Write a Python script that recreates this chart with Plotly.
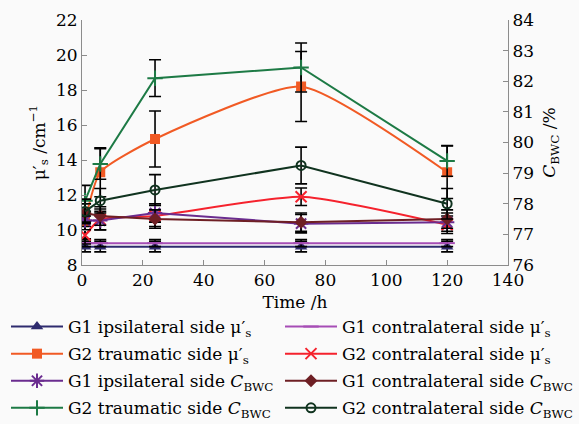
import plotly.graph_objects as go

time_h = [1, 6, 24, 72, 120]

# mu_s' (left axis, cm^-1)
g1_ipsi_mu = [9.05, 9.05, 9.05, 9.05, 9.05]
g1_ipsi_mu_err = [0.3, 0.3, 0.3, 0.3, 0.3]
g1_contra_mu = [9.25, 9.25, 9.25, 9.25, 9.25]
g1_contra_mu_err = [0.2, 0.2, 0.2, 0.2, 0.2]
g2_trauma_mu = [10.5, 13.3, 15.2, 18.2, 13.3]
g2_trauma_mu_err = [1.0, 1.4, 1.6, 2.0, 1.5]
g2_contra_mu = [9.7, 10.6, 10.8, 11.9, 10.3]
g2_contra_mu_err = [0.5, 0.6, 0.6, 0.5, 0.5]

# C_BWC (right axis, %)
g1_ipsi_c = [77.45, 77.45, 77.7, 77.35, 77.4]
g1_ipsi_c_err = [0.3, 0.3, 0.3, 0.3, 0.3]
g1_contra_c = [77.7, 77.6, 77.5, 77.4, 77.5]
g1_contra_c_err = [0.3, 0.3, 0.3, 0.3, 0.3]
g2_trauma_c = [78.1, 79.3, 82.1, 82.45, 79.4]
g2_trauma_c_err = [0.5, 0.5, 0.6, 0.8, 0.5]
g2_contra_c = [77.75, 78.1, 78.45, 79.25, 78.0]
g2_contra_c_err = [0.4, 0.4, 0.5, 0.6, 0.5]

MU = "μ′<sub>s</sub>"
CB = "<i>C</i><sub>BWC</sub>"

FONT = "DejaVu Serif"

series = [
    # name, y, err, color, symbol, msize, axis, shape, legend
    ("G1 ipsilateral side " + MU, g1_ipsi_mu, g1_ipsi_mu_err, "#2e2b6e", "triangle-up", 11, "y", "linear", "legend"),
    ("G1 contralateral side " + MU, g1_contra_mu, g1_contra_mu_err, "#a64db5", "line-ew", 11, "y", "linear", "legend2"),
    ("G2 traumatic side " + MU, g2_trauma_mu, g2_trauma_mu_err, "#f15a24", "square", 10, "y", "spline", "legend"),
    ("G2 contralateral side " + MU, g2_contra_mu, g2_contra_mu_err, "#f5222d", "x-thin", 11, "y", "spline", "legend2"),
    ("G1 ipsilateral side " + CB, g1_ipsi_c, g1_ipsi_c_err, "#6a2c8f", "asterisk", 12, "y2", "linear", "legend"),
    ("G1 contralateral side " + CB, g1_contra_c, g1_contra_c_err, "#6e1f24", "diamond", 10, "y2", "linear", "legend2"),
    ("G2 traumatic side " + CB, g2_trauma_c, g2_trauma_c_err, "#1d7a45", "cross-thin", 11, "y2", "linear", "legend"),
    ("G2 contralateral side " + CB, g2_contra_c, g2_contra_c_err, "#10331f", "circle-open", 9, "y2", "linear", "legend2"),
]

fig = go.Figure()
for i, (name, y, err, color, sym, ms, ax, shape, leg) in enumerate(series):
    thin = sym in ("x-thin", "cross-thin", "asterisk", "line-ew", "circle-open")
    fig.add_trace(go.Scatter(
        x=time_h, y=y, name=name, yaxis=ax, mode="lines+markers",
        line=dict(color=color, width=2, shape=shape, smoothing=0.55),
        marker=dict(symbol=sym, size=ms, color=color,
                    line=dict(color=color, width=2 if thin else 0)),
        error_y=dict(type="data", array=err, visible=True, color="black",
                     thickness=1.6, width=6),
        legend=leg, legendgroup="g%d" % i,
    ))

axis_common = dict(
    showline=True, linecolor="#8c8c8c", linewidth=1,
    ticks="inside", ticklen=5, tickcolor="#8c8c8c",
    showgrid=False, zeroline=False,
    tickfont=dict(family=FONT, size=17, color="black"),
)

fig.update_layout(
    width=579, height=424,
    margin=dict(l=82, r=71, t=20, b=159, autoexpand=False),
    paper_bgcolor="#fafafa", plot_bgcolor="#fafafa",
    font=dict(family=FONT, size=17, color="black"),
    xaxis=dict(range=[0, 140], dtick=20, tick0=0,
               title=dict(text="Time /h", font=dict(family=FONT, size=17), standoff=6),
               **axis_common),
    yaxis=dict(range=[8, 22], dtick=2,
               title=dict(text=MU + " /cm<sup>−1</sup>", font=dict(family=FONT, size=17), standoff=6),
               **axis_common),
    yaxis2=dict(range=[76, 84], dtick=1, overlaying="y", side="right",
                title=dict(text=CB + " /%", font=dict(family=FONT, size=17), standoff=10),
                **axis_common),
    legend=dict(x=(6 - 82) / 426, y=(265 - 309) / 245, xanchor="left", yanchor="top",
                orientation="v", tracegroupgap=2, itemwidth=52,
                bgcolor="rgba(0,0,0,0)", font=dict(family=FONT, size=17)),
    legend2=dict(x=(280 - 82) / 426, y=(265 - 309) / 245, xanchor="left", yanchor="top",
                 orientation="v", tracegroupgap=2, itemwidth=52,
                 bgcolor="rgba(0,0,0,0)", font=dict(family=FONT, size=17)),
    showlegend=True,
)

fig.write_html("out.html")
